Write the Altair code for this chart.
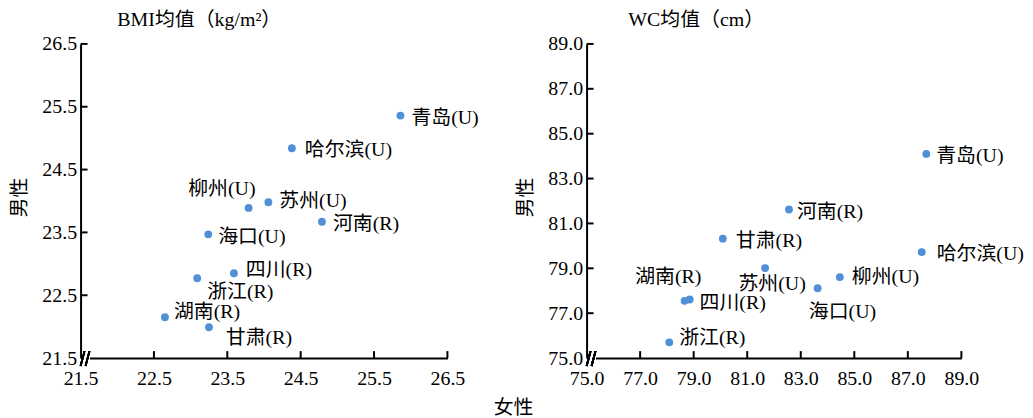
import altair as alt
import pandas as pd

cities = ["青岛(U)", "哈尔滨(U)", "柳州(U)", "苏州(U)", "河南(R)",
          "海口(U)", "四川(R)", "浙江(R)", "湖南(R)", "甘肃(R)"]
bmi_female = [25.86, 24.38, 23.79, 24.06, 24.79, 23.24, 23.59, 23.09, 22.65, 23.25]
bmi_male = [25.36, 24.84, 23.89, 23.98, 23.67, 23.47, 22.85, 22.77, 22.15, 21.99]
wc_female = [87.69, 87.52, 84.46, 81.67, 82.56, 83.63, 78.85, 78.09, 78.66, 80.09]
wc_male = [84.10, 79.72, 78.61, 79.01, 81.62, 78.11, 77.61, 75.70, 77.55, 80.32]
bmi_ticks = [21.5, 22.5, 23.5, 24.5, 25.5, 26.5]
wc_ticks = [75.0, 77.0, 79.0, 81.0, 83.0, 85.0, 87.0, 89.0]

bmi_title = "BMI均值（kg/m²）"
wc_title = "WC均值（cm）"
y_title = "男性"
x_title = "女性"

# label placement styles: (align, dx, dy)
bmi_place = {
    "青岛(U)": ("left", 11, 3), "哈尔滨(U)": ("left", 13, 2), "柳州(U)": ("right", 7, -19),
    "苏州(U)": ("left", 11, -1), "河南(R)": ("left", 11, 2), "海口(U)": ("left", 10, 3),
    "四川(R)": ("left", 12, -3), "浙江(R)": ("left", 10, 14), "湖南(R)": ("left", 9, -5),
    "甘肃(R)": ("left", 17, 11),
}
wc_place = {
    "青岛(U)": ("left", 10, 2), "哈尔滨(U)": ("left", 15, 2), "柳州(U)": ("left", 12, 0),
    "苏州(U)": ("center", 7, 16), "河南(R)": ("left", 8, 3), "海口(U)": ("center", 25, 24),
    "四川(R)": ("left", 10, 4), "浙江(R)": ("left", 10, -4), "湖南(R)": ("right", 17, -24),
    "甘肃(R)": ("left", 13, 2),
}

SERIF = "Liberation Serif, Noto Sans CJK SC"
CJK = "Liberation Serif, Noto Sans CJK SC"
BLUE = "#4f90d6"


def panel(xv, yv, ticks, width, height, title, title_dx, place, with_xtitle):
    df = pd.DataFrame({"city": cities, "x": xv, "y": yv})
    tdf = pd.DataFrame({"x": ticks[1:], "y": ticks[1:]})
    xs = alt.Scale(domain=[ticks[0], ticks[-1]], nice=False, zero=False)
    ys = alt.Scale(domain=[ticks[0], ticks[-1]], nice=False, zero=False)
    axis_common = dict(values=ticks, format=".1f", ticks=False, grid=False,
                       domainColor="black", domainWidth=2, labelFont=SERIF,
                       labelFontSize=20, labelColor="black", labelFlush=False,
                       labelOverlap=False)
    if with_xtitle:
        xaxis = alt.Axis(**axis_common, labelPadding=11, title=x_title, titleFont=CJK,
                         titleFontSize=20, titleFontWeight="normal", titleColor="black",
                         titleX=435, titleY=50, titleBaseline="middle", titleAlign="center")
    else:
        xaxis = alt.Axis(**axis_common, labelPadding=11, title="")
    yaxis = alt.Axis(**axis_common, labelPadding=4, title=y_title, titleFont=CJK,
                     titleFontSize=20, titleFontWeight="normal", titleColor="black",
                     titleX=-61, titleY=height / 2 - 4, titleBaseline="middle",
                     titleAlign="center", titleAngle=270)
    X = alt.X("x:Q", scale=xs, axis=xaxis)
    Y = alt.Y("y:Q", scale=ys, axis=yaxis)
    base = alt.Chart(df)
    pts = base.mark_circle(size=62, color=BLUE, opacity=1).encode(x=X, y=Y)
    layers = [pts]
    for c in cities:
        a, dx, dy = place[c]
        layers.append(
            base.transform_filter(alt.datum.city == c)
            .mark_text(align=a, dx=dx, dy=dy, baseline="middle", font=CJK,
                       fontSize=20, color="black")
            .encode(x=X, y=Y, text="city:N")
        )
    tick_base = alt.Chart(tdf)
    layers.append(tick_base.mark_rule(color="black", strokeWidth=2).encode(
        x=X, y=alt.value(height), y2=alt.value(height - 7)))
    layers.append(tick_base.mark_rule(color="black", strokeWidth=2).encode(
        y=Y, x=alt.value(0), x2=alt.value(7)))
    # axis break
    layers.append(tick_base.mark_rule(color="white", strokeWidth=5).encode(
        x=alt.value(1.5), x2=alt.value(9.5), y=alt.value(height)))
    layers.append(tick_base.mark_rule(color="black", strokeWidth=1.8).encode(
        x=alt.value(0), x2=alt.value(4), y=alt.value(height + 8), y2=alt.value(height - 7)))
    layers.append(tick_base.mark_rule(color="black", strokeWidth=1.8).encode(
        x=alt.value(5), x2=alt.value(9), y=alt.value(height + 8), y2=alt.value(height - 7)))
    return alt.layer(*layers).properties(
        width=width, height=height,
        title=alt.TitleParams(title, anchor="start", frame="group", dx=title_dx,
                              font=CJK, fontSize=20, fontWeight="normal",
                              color="black", offset=4),
    )


left = panel(bmi_female, bmi_male, bmi_ticks, 369, 316, bmi_title, 37, bmi_place, True)
right = panel(wc_female, wc_male, wc_ticks, 377, 316, wc_title, 42, wc_place, False)

chart = alt.hconcat(left, right, spacing=140, bounds="flush").properties(
    autosize=alt.AutoSizeParams(type="none"),
    padding={"left": 73, "top": 34, "right": 950, "bottom": 374},
    background="white",
).configure_view(stroke=None)

chart.save("out.html", embed_options={"renderer": "svg", "actions": False})
